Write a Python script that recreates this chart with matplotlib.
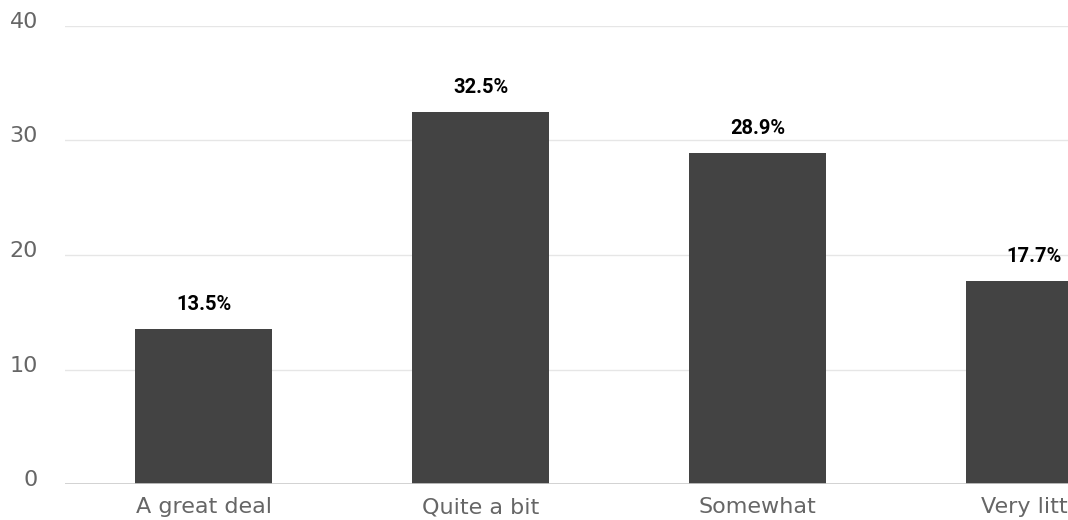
import matplotlib
matplotlib.use("Agg")
import matplotlib.pyplot as plt
import matplotlib.transforms as mtransforms

categories = ["A great deal", "Quite a bit", "Somewhat", "Very little"]
shares = [13.5, 32.5, 28.9, 17.7]
yticks = [0, 10, 20, 30, 40]

W, H = 1068, 520
fig = plt.figure(figsize=(W / 100, H / 100), dpi=100)

# plot area in pixels; it runs past the right edge, so the last column is cut off
x_left, x_right = 65, 1173
y_zero, y_top = 484, 26
ax = fig.add_axes([x_left / W, (H - y_zero) / H,
                   (x_right - x_left) / W, (y_zero - y_top) / H])

x = range(len(categories))
bars = ax.bar(x, shares, width=0.495, color="#434343", zorder=3)

ax.set_xlim(-0.5, len(categories) - 0.5)
ax.set_ylim(0, 40)
ax.set_yticks(yticks)
ax.set_xticks(list(x))
ax.set_xticklabels(categories)

for s in ax.spines.values():
    s.set_visible(False)
ax.axhline(0, color="#cccccc", lw=1.2, zorder=4)
ax.grid(axis="y", color="#e6e6e6", lw=1, zorder=0)
ax.tick_params(axis="both", length=0, labelsize=16, labelcolor="#666666")
ax.tick_params(axis="y", pad=19.5)
ax.tick_params(axis="x", pad=9.5)

shift = mtransforms.ScaledTranslation(0, 6 / 100, fig.dpi_scale_trans)
for lab in ax.get_yticklabels():
    lab.set_transform(lab.get_transform() + shift)

for b, v in zip(bars, shares):
    ax.annotate(f"{v:.1f}%", (b.get_x() + b.get_width() / 2, v),
                xytext=(0, 11), textcoords="offset points",
                ha="center", va="bottom", fontsize=14.5, family="Roboto",
                fontweight="bold", color="#000000", annotation_clip=False)

fig.savefig("out.png", dpi=100)
